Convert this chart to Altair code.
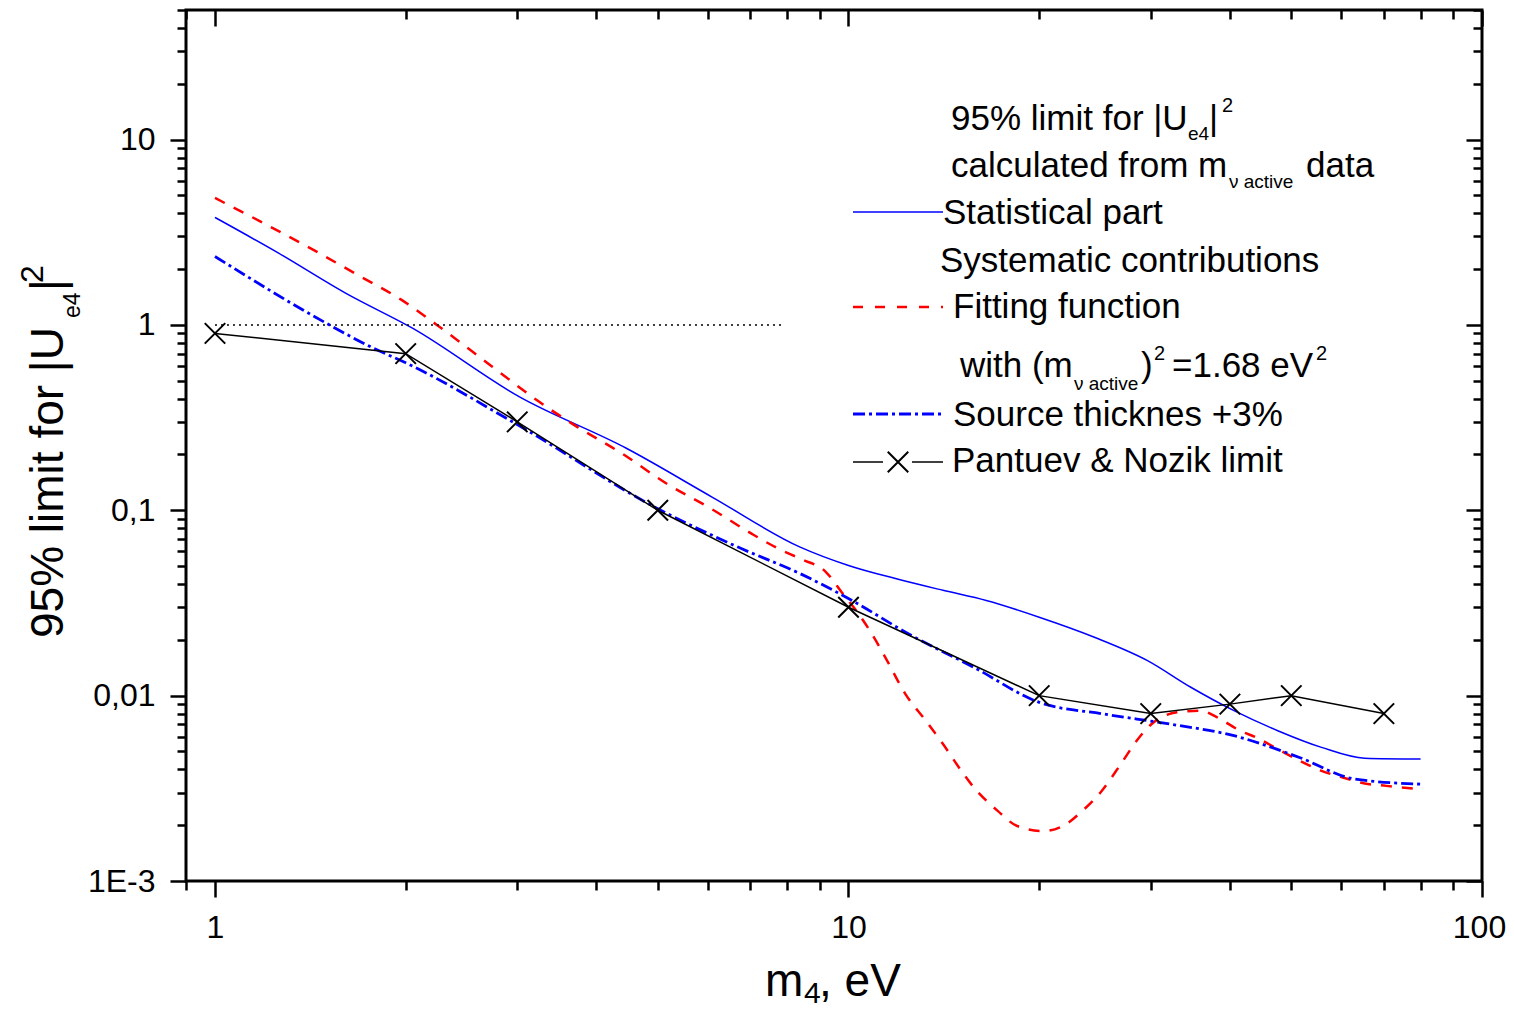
import altair as alt
import pandas as pd

FONT = "Liberation Sans"

# ---------------- data ----------------
stat_x = [1, 1.26, 1.61, 2.05, 3.02, 4.46, 6.1, 8.39, 10, 11.9, 14.1, 16.5, 20,
          24.5, 29.6, 34.7, 40.6, 47.6, 55.8, 65.3, 80]
stat_y = [3.8, 2.44, 1.48, 0.96, 0.41, 0.216, 0.1175, 0.0633, 0.0504, 0.0427, 0.037,
          0.0326, 0.0265, 0.0206, 0.0155, 0.0111, 0.0083, 0.00647, 0.00526,
          0.0046, 0.00455]

fit_x = [1, 1.22, 1.43, 1.68, 1.97, 2.24, 2.74, 3.22, 3.73, 4.39, 5.16, 6.07,
         7.03, 7.75, 8.39, 9.22, 9.8, 10.33, 10.89, 11.5, 12.3, 13.24, 14.1,
         14.94, 15.78, 17.2, 18.46, 20.3, 21.8, 23.4, 25.1, 26.9, 28.5, 30.1,
         33, 35.9, 38.2, 41.5, 44, 47.6, 51.5, 55.8, 60.3, 65.3, 70.6, 80]
fit_y = [4.84, 3.40, 2.54, 1.86, 1.365, 1.0, 0.595, 0.393, 0.282, 0.2025,
         0.1394, 0.102, 0.0748, 0.0621, 0.0548, 0.0463, 0.0354, 0.0282, 0.0215,
         0.0155, 0.0102, 0.00733, 0.00548, 0.0041, 0.00319, 0.00239, 0.00198,
         0.00186, 0.00198, 0.00239, 0.00306, 0.00427, 0.00571, 0.00703, 0.00813,
         0.0083, 0.00763, 0.00647, 0.00595, 0.00515, 0.00446, 0.00393, 0.00362,
         0.00336, 0.00326, 0.00313]

src_x = [1, 1.5, 1.78, 2, 3, 5, 6.69, 8.39, 10.13, 12.45, 15.78, 20, 25.3,
         32.1, 40.6, 51.5, 62.9, 80]
src_y = [2.34, 1.02, 0.748, 0.625, 0.29, 0.102, 0.0633, 0.0455, 0.0326, 0.0215,
         0.0142, 0.0092, 0.00796, 0.00703, 0.00608, 0.00464, 0.00355, 0.00333]

pn_x = [1, 2, 3, 5, 10, 20, 30, 40, 50, 70]
pn_y = [0.9, 0.7, 0.3, 0.1, 0.03, 0.01, 0.008, 0.009, 0.01, 0.008]

dot_x = [1, 7.9]
dot_y = [1, 1]

x_major = [1, 10, 100]
x_major_labels = ["1", "10", "100"]
x_minor = [0.9, 2, 3, 4, 5, 6, 7, 8, 9, 20, 30, 40, 50, 60, 70, 80, 90]

y_major = [0.001, 0.01, 0.1, 1, 10]
y_major_labels = ["1E-3", "0,01", "0,1", "1", "10"]
y_minor = [round(m * d, 6) for d in [0.001, 0.01, 0.1, 1] for m in range(2, 10)] + [20, 30, 40, 50]

# ---------------- helpers ----------------
def label_expr(vals, labs):
    expr = "''"
    for v, l in zip(vals, labs):
        expr = f"datum.value == {v} ? '{l}' : ({expr})"
    return expr

def major_test(vals):
    return "indexof([" + ",".join(str(v) for v in vals) + "], datum.value) >= 0"

x_vals = sorted(x_major + x_minor)
y_vals = sorted(y_major + y_minor)

xs = alt.Scale(type="log", domain=[0.9, 100], nice=False)
ys = alt.Scale(type="log", domain=[0.001, 50], nice=False)

common = dict(tickColor="black", tickWidth=2.5, domain=False, grid=False,
              title=None, labelFont=FONT, labelFontSize=32, labelColor="black",
              labelFlush=False, labelOverlap=False)

ax_bottom = alt.Axis(orient="bottom", values=x_vals,
                     labelExpr=label_expr(x_major, x_major_labels),
                     tickSize={"condition": {"test": major_test(x_major), "value": 16}, "value": 9},
                     labelOffset={"condition": {"test": "datum.value == 100", "value": -3}, "value": 0},
                     labelPadding=15, **common)
ax_left = alt.Axis(orient="left", values=y_vals,
                   labelExpr=label_expr(y_major, y_major_labels),
                   tickSize={"condition": {"test": major_test(y_major), "value": 16}, "value": 9},
                   labelPadding=15, **common)
ax_top = alt.Axis(orient="top", values=x_vals, labels=False,
                  tickSize={"condition": {"test": major_test(x_major), "value": -16}, "value": -9},
                  **common)
ax_right = alt.Axis(orient="right", values=y_vals, labels=False,
                    tickSize={"condition": {"test": major_test(y_major), "value": -16}, "value": -9},
                    **common)

def df(xv, yv):
    return pd.DataFrame({"x": xv, "y": yv})

def enc(chart, xa=None, ya=None):
    return chart.encode(
        x=alt.X("x:Q", scale=xs, axis=xa),
        y=alt.Y("y:Q", scale=ys, axis=ya),
    )

BLUE = "#0000ff"
RED = "#ff0000"
XPATH = "M-1,-1L1,1M-1,1L1,-1"
ONE = alt.Data(values=[{}])

layers = []
layers.append(enc(alt.Chart(df(stat_x, stat_y)).mark_line(color=BLUE, strokeWidth=1.5,
                                                            interpolate="monotone"),
                  ax_bottom, ax_left))
layers.append(enc(alt.Chart(df(fit_x, fit_y)).mark_line(color=RED, strokeWidth=2.5, strokeDash=[11, 10],
                                                          interpolate="monotone"),
                  ax_top, ax_right))
layers.append(enc(alt.Chart(df(dot_x, dot_y)).mark_line(color="black", strokeWidth=1.5, strokeDash=[2, 4])))
layers.append(enc(alt.Chart(df(src_x, src_y)).mark_line(color=BLUE, strokeWidth=2.8, strokeDash=[12, 4, 3, 4],
                                                          interpolate="monotone")))
layers.append(enc(alt.Chart(df(pn_x, pn_y)).mark_line(color="black", strokeWidth=1.5)))
layers.append(enc(alt.Chart(df(pn_x, pn_y)).mark_point(shape=XPATH, size=420, filled=False,
                                                          stroke="black", strokeWidth=2, opacity=1)))

# ---------------- legend samples ----------------
def rule(x1, x2, y, color, width, dash=None):
    kw = dict(color=color, strokeWidth=width)
    if dash:
        kw["strokeDash"] = dash
    return alt.Chart(ONE).mark_rule(**kw).encode(x=alt.value(x1), x2=alt.value(x2), y=alt.value(y))

layers.append(rule(667, 757, 202, BLUE, 1.5))
layers.append(rule(667, 757, 297, RED, 2.5, [10, 12]))
layers.append(rule(667, 757, 404, BLUE, 2.8, [12, 4, 3, 4]))
layers.append(rule(667, 697, 452, "black", 1.5))
layers.append(rule(726, 757, 452, "black", 1.5))
layers.append(alt.Chart(ONE).mark_point(shape=XPATH, size=420, filled=False, stroke="black",
                                        strokeWidth=2, opacity=1)
              .encode(x=alt.value(712), y=alt.value(452)))

# ---------------- texts ----------------
def txt(s, x, y, size, angle=0):
    kw = dict(text=s, fontSize=size, font=FONT, align="left", baseline="alphabetic", color="black")
    if angle:
        kw["angle"] = angle
    return alt.Chart(ONE).mark_text(**kw).encode(x=alt.value(x), y=alt.value(y))

texts = [
    ("95% limit for |U", 765, 120, 35), ("e4", 1002, 130, 19), ("|", 1023, 120, 35), ("2", 1036, 102, 20),
    ("calculated from m", 765, 167, 35), ("\u03bd active", 1043, 178, 19), ("data", 1120, 167, 35),
    ("Statistical part", 757, 214, 35),
    ("Systematic contributions", 754, 262, 35),
    ("Fitting function", 767, 308, 35),
    ("with (m", 774, 367, 35), ("\u03bd active", 888, 380, 19), (")", 955, 367, 35), ("2", 968, 350, 20),
    ("=1.68 eV", 986, 367, 35), ("2", 1130, 350, 20),
    ("Source thicknes +3%", 767, 416, 35),
    ("Pantuev & Nozik limit", 766, 462, 35),
    # x axis title
    ("m", 579, 986, 46), ("4", 618, 993, 30), (", eV", 633, 986, 46),
]
for s, x, y, f in texts:
    layers.append(txt(s, x, y, f))

# y axis title (rotated)
for s, x, y, f in [("95% limit for |U", -123, 628, 46), ("e4", -106, 308, 23),
                   ("|", -123, 281, 46), ("2", -143, 273, 32)]:
    layers.append(txt(s, x, y, f, angle=270))

chart = (
    alt.layer(*layers)
    .resolve_axis(x="independent", y="independent")
    .properties(width=1296, height=871,
                autosize=alt.AutoSizeParams(type="none"),
                padding={"left": 178, "top": 2, "right": 24, "bottom": 130})
    .configure(font=FONT)
    .configure_view(stroke="black", strokeWidth=3)
)

chart.save("out.html", embed_options={"renderer": "svg", "actions": False})
